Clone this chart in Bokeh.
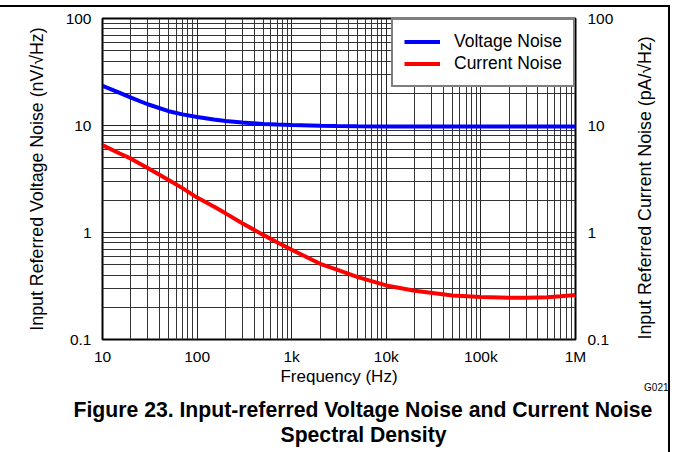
import math
from bokeh.plotting import figure
from bokeh.models import LogAxis, FixedTicker, Title
from bokeh.embed import file_html
from bokeh.resources import INLINE

# ---- data ----
freq = [10, 15, 20, 30, 50, 70, 100, 150, 200, 300, 500, 700, 1000, 2000, 3000,
        5000, 10000, 20000, 50000, 100000, 200000, 300000, 500000, 700000, 1000000]
voltage_noise = [23.5, 20.3, 18.2, 15.8, 13.6, 12.7, 12.0, 11.4, 11.0, 10.65, 10.35,
                 10.2, 10.1, 9.95, 9.9, 9.85, 9.8, 9.8, 9.8, 9.8, 9.8, 9.8, 9.8, 9.8, 9.8]
current_noise = [6.55, 5.5, 4.9, 4.0, 3.1, 2.6, 2.12, 1.75, 1.51, 1.22, 0.95, 0.81,
                 0.69, 0.51, 0.45, 0.383, 0.32, 0.285, 0.258, 0.25, 0.245, 0.245,
                 0.248, 0.254, 0.261]

x_ticks = [10, 100, 1000, 10000, 100000, 1000000]
x_tick_labels = ["10", "100", "1k", "10k", "100k", "1M"]
y_ticks = [0.1, 1, 10, 100]
y_tick_labels = ["0.1", "1", "10", "100"]

x_minor = [m * d for d in [10, 100, 1000, 10000, 100000] for m in range(1, 10)] + [1000000]
y_minor = [round(m * d, 3) for d in [0.1, 1, 10] for m in range(1, 10)] + [100]

FONT = "Liberation Sans"

p = figure(width=670, height=447, title=None,
           x_axis_type="log", y_axis_type="log",
           x_range=(10, 1e6), y_range=(0.1, 100),
           output_backend="svg", toolbar_location=None,
           min_border_left=102, min_border_right=95,
           min_border_top=11, min_border_bottom=115)
p.styles = {"margin-top": "5px", "border-top": "2px solid black",
            "border-right": "2px solid black"}

p.line(freq, voltage_noise, line_color="#0000ff", line_width=4, legend_label="Voltage Noise")
p.line(freq, current_noise, line_color="#ff0000", line_width=4, legend_label="Current Noise")

xt = FixedTicker(ticks=x_ticks, minor_ticks=x_minor)
yt = FixedTicker(ticks=y_ticks, minor_ticks=y_minor)

p.xaxis.ticker = xt
p.yaxis.ticker = yt
p.xgrid.ticker = xt
p.ygrid.ticker = yt
p.xaxis.major_label_overrides = {t: l for t, l in zip(x_ticks, x_tick_labels)}
p.yaxis.major_label_overrides = {t: l for t, l in zip(y_ticks, y_tick_labels)}

right = LogAxis(ticker=yt)
right.major_label_overrides = {t: l for t, l in zip(y_ticks, y_tick_labels)}
p.add_layout(right, "right")

xa = p.xaxis[0]
ya = p.yaxis[0]
for ax in [xa, ya, right]:
    ax.axis_line_color = None
    ax.major_tick_line_color = None
    ax.minor_tick_line_color = None
    ax.major_tick_out = 0
    ax.minor_tick_out = 0
    ax.major_tick_in = 0
    ax.minor_tick_in = 0
    ax.major_label_text_font = FONT
    ax.major_label_text_font_size = "15.5px"
    ax.major_label_text_color = "black"
    ax.axis_label_text_font = FONT
    ax.axis_label_text_font_style = "normal"
    ax.axis_label_text_color = "black"
    ax.axis_label_text_font_size = "17.8px"

xa.major_label_standoff = 8
xa.axis_label = "Frequency (Hz)"
xa.axis_label_text_font_size = "17px"
xa.axis_label_standoff = -1

ya.major_label_standoff = 11
ya.axis_label = "Input Referred Voltage Noise (nV/\u221aHz)"
ya.axis_label_standoff = 16

right.major_label_standoff = 12
right.axis_label = "Input Referred Current Noise (pA/\u221aHz)"
right.axis_label_standoff = 29
props = right.properties()
if "axis_label_orientation" in props:
    right.axis_label_orientation = math.pi / 2
    if "axis_label_align" in props:
        for v in ("start", "left"):
            try:
                right.axis_label_align = v
                break
            except ValueError:
                pass

for g in [p.xgrid[0], p.ygrid[0]]:
    g.grid_line_color = "#222222"
    g.grid_line_width = 1
    g.minor_grid_line_color = "#333333"
    g.minor_grid_line_width = 1

p.outline_line_color = "black"
p.outline_line_width = 2
p.outline_line_alpha = 1.0

lg = p.legend[0]
lg.location = "top_right"
lg.margin = 0
lg.padding = 11
lg.spacing = 1
lg.label_height = 19
lg.glyph_height = 19
lg.glyph_width = 36
lg.label_standoff = 14
lg.label_text_font = FONT
lg.label_text_font_size = "17.5px"
lg.label_text_color = "black"
lg.border_line_color = "black"
lg.border_line_width = 2
lg.background_fill_color = "white"
lg.background_fill_alpha = 1.0

def title(text, size, align="center", bold=False, offset=0, standoff=0, valign="bottom"):
    t = Title(text=text, align=align, offset=offset, standoff=standoff,
              vertical_align=valign,
              text_font=FONT, text_font_size=size,
              text_font_style="bold" if bold else "normal", text_color="black")
    p.add_layout(t, "below")
    return t

title("G021", "10px", align="right", offset=-93, standoff=-13, valign="top")
title("Figure 23. Input-referred Voltage Noise and Current Noise", "21.2px",
      align="left", bold=True, offset=-29, standoff=14)
title("Spectral Density", "21.2px", align="left", bold=True, offset=178, standoff=-14)

open("out.html", "w").write(file_html(p, INLINE))
